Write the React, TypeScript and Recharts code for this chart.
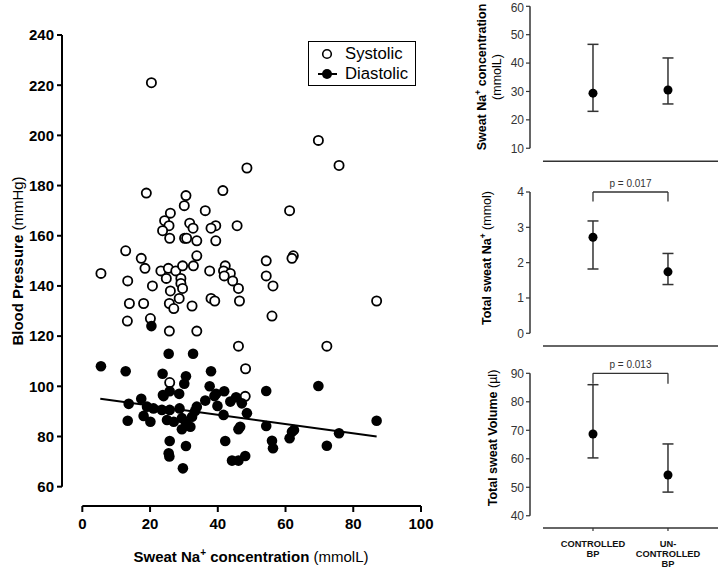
import React from "react";
import { ScatterChart, Scatter, XAxis, YAxis, ReferenceLine, Legend, ErrorBar } from "recharts";

// main scatter: sweat Na+ (mmol/L) vs blood pressure (mmHg)
const systolic: [number, number][] = [
  [20.4, 221], [18.9, 177], [30.6, 176], [30.1, 172], [41.5, 178], [48.6, 187], [26.0, 169], [36.3, 170],
  [24.3, 166], [31.7, 165], [25.6, 164], [32.7, 163], [23.7, 162], [39.4, 164], [38.0, 163], [45.7, 164],
  [25.8, 159], [30.2, 159], [30.8, 159], [33.8, 158], [39.4, 158], [12.8, 154], [17.4, 151], [33.8, 152],
  [18.5, 147], [5.5, 145], [23.2, 146], [25.4, 147], [27.6, 146], [29.6, 148], [32.8, 148], [37.6, 146],
  [42.2, 148], [41.7, 146], [43.7, 145], [41.9, 144], [24.8, 143], [29.1, 143], [13.4, 142], [44.4, 142],
  [29.1, 141], [20.7, 140], [29.6, 139], [46.1, 139], [26.0, 138], [28.6, 135], [38.0, 135], [39.1, 134],
  [46.4, 134], [13.9, 133], [18.1, 133], [25.7, 133], [27.0, 131], [32.4, 132], [13.3, 126], [20.1, 127],
  [25.7, 122], [33.8, 122], [46.1, 116], [48.2, 107], [25.8, 101.5], [48.1, 96], [61.2, 170], [54.3, 150],
  [62.3, 152], [61.9, 151], [54.3, 144], [56.3, 140], [86.9, 134], [56.0, 128], [72.2, 116], [69.7, 198],
  [75.8, 188],
];

const diastolic: [number, number][] = [
  [20.4, 124], [25.5, 113], [32.7, 113], [5.5, 108], [12.8, 106], [23.7, 105], [30.6, 104], [38.0, 106],
  [30.1, 101], [37.6, 100], [23.8, 96.5], [25.8, 98], [28.6, 97], [17.4, 95], [39.5, 97], [41.9, 98],
  [45.4, 95.6], [13.7, 93], [13.4, 86.3], [18.1, 88.2], [20.1, 85.9], [19.1, 91.9], [21.0, 91.2],
  [23.5, 90.6], [24.0, 96.1], [25.8, 90.6], [25.0, 86.6], [27.0, 85.9], [28.7, 91.2], [29.4, 87.3],
  [29.4, 82.9], [30.7, 85.3], [32.4, 87.9], [33.3, 90.2], [33.8, 91.9], [31.9, 83.9], [25.8, 78.2],
  [25.5, 73.3], [25.7, 72], [30.6, 76.2], [29.7, 67.3], [36.3, 94.3], [39.0, 96.1], [39.9, 92.2],
  [43.7, 93.9], [47.1, 93.2], [48.6, 89.3], [41.7, 88.6], [46.6, 83.9], [46.1, 82.9], [42.2, 78.2],
  [44.2, 70.4], [46.1, 70.4], [48.1, 72.2], [54.3, 98.1], [69.7, 100.1], [54.3, 84.2], [56.0, 78.3],
  [56.3, 75.3], [61.2, 79.3], [61.9, 81.9], [62.5, 82.6], [75.8, 81.3], [72.2, 76.3], [86.9, 86.3],
];

const seriesNames = ["Systolic", "Diastolic"];
const trend: [number, number][] = [[5.3, 95], [86.9, 80]];
const bpTicks = [60, 80, 100, 120, 140, 160, 180, 200, 220, 240];
const naTicks = [0, 20, 40, 60, 80, 100];

// right-hand panels
const groups = ["CONTROLLED BP", "UN-CONTROLLED BP"];
const concMean = [29.4, 30.5];
const concLow = [23.0, 25.6];
const concHigh = [46.6, 41.8];
const concTicks = [10, 20, 30, 40, 50, 60];

const totalMean = [2.72, 1.74];
const totalLow = [1.82, 1.38];
const totalHigh = [3.18, 2.26];
const totalTicks = [0, 1, 2, 3, 4];

const volMean = [68.7, 54.3];
const volLow = [60.3, 48.3];
const volHigh = [86, 65.2];
const volTicks = [40, 50, 60, 70, 80, 90];

const pLabels = ["p = 0.017", "p = 0.013"];
const bracketTop = [4.0, 90];
const bracketDrop = [3.73, 86.3];

const FONT = "Arial, 'Liberation Sans', sans-serif";

const toPts = (arr: [number, number][]) => arr.map(([x, y]) => ({ x, y }));

const OpenDot = (p: any) => <circle cx={p.cx} cy={p.cy} r={4.6} fill="#fff" stroke="#000" strokeWidth={1.8} />;
const FilledDot = (p: any) => <circle cx={p.cx} cy={p.cy} r={5.3} fill="#000" />;
const PanelDot = (p: any) => <circle cx={p.cx} cy={p.cy} r={4.5} fill="#000" />;

const renderLegend = (props: any) => {
  const items = [...(props.payload || [])].sort(
    (a: any, b: any) => seriesNames.indexOf(a.value) - seriesNames.indexOf(b.value)
  );
  return (
    <div
      style={{
        border: "1.5px solid #000", width: 108, height: 45, boxSizing: "border-box", background: "#fff",
        fontFamily: FONT, fontSize: 16.7, paddingTop: 2,
      }}
    >
      {items.map((p: any, i: number) => (
        <div key={i} style={{ display: "flex", alignItems: "center", height: 20 }}>
          <svg width={36} height={16}>
            {p.value === seriesNames[0] ? (
              <circle cx={18} cy={8} r={4.3} fill="#fff" stroke="#000" strokeWidth={1.6} />
            ) : (
              <g>
                <line x1={9} x2={28} y1={8} y2={8} stroke="#000" strokeWidth={2} />
                <circle cx={18} cy={8} r={5} fill="#000" />
              </g>
            )}
          </svg>
          <span style={{ lineHeight: "20px" }}>{p.value}</span>
        </div>
      ))}
    </div>
  );
};

const MainYLabel = () => (
  <text transform="translate(23,261) rotate(-90)" textAnchor="middle" fontSize={15} fill="#000" fontFamily={FONT}>
    <tspan fontWeight="bold">Blood Pressure</tspan>
    <tspan> (mmHg)</tspan>
  </text>
);

const MainXLabel = () => (
  <text x={251} y={562} textAnchor="middle" fontSize={15} fill="#000" fontFamily={FONT}>
    <tspan fontWeight="bold">Sweat Na</tspan>
    <tspan fontWeight="bold" fontSize={10} dy={-6}>+</tspan>
    <tspan fontWeight="bold" dy={6}> concentration</tspan>
    <tspan> (mmolL)</tspan>
  </text>
);

const ConcLabel = () => (
  <text transform="translate(46,77) rotate(-90)" textAnchor="middle" fontSize={12.5} fill="#000" fontFamily={FONT}>
    <tspan fontWeight="bold">Sweat Na</tspan>
    <tspan fontWeight="bold" fontSize={8.5} dy={-5}>+</tspan>
    <tspan fontWeight="bold" dy={5}> concentration</tspan>
    <tspan x={0} dy={15} fontSize={12.5}>(mmolL)</tspan>
  </text>
);

const TotalLabel = () => (
  <text transform="translate(51,93) rotate(-90)" textAnchor="middle" fontSize={12.5} fill="#000" fontFamily={FONT}>
    <tspan fontWeight="bold">Total sweat Na</tspan>
    <tspan fontWeight="bold" fontSize={8.5} dy={-5}>+</tspan>
    <tspan dy={5}> (mmol)</tspan>
  </text>
);

const VolLabel = () => (
  <text transform="translate(57,88) rotate(-90)" textAnchor="middle" fontSize={12.5} fill="#000" fontFamily={FONT}>
    <tspan fontWeight="bold">Total sweat Volume</tspan>
    <tspan> (µl)</tspan>
  </text>
);

const GroupTick = (props: any) => {
  const name = groups[props.payload.value] || "";
  const lines = name.replace("-", "-\n").replace(" ", "\n").split("\n");
  return (
    <text textAnchor="middle" fontSize={9.3} fontWeight="bold" fill="#111" fontFamily={FONT}>
      {lines.map((l, i) => (
        <tspan key={i} x={props.x} y={props.y + 14 + i * 10}>{l}</tspan>
      ))}
    </text>
  );
};

type PanelProps = {
  top: number; height: number; mt: number; mb: number; xh: number;
  mean: number[]; low: number[]; high: number[];
  domain: [number, number]; ticks: number[]; label: any;
  bracket?: number; showNames?: boolean;
};

function Panel({ top, height, mt, mb, xh, mean, low, high, domain, ticks, label, bracket, showNames }: PanelProps) {
  const data = mean.map((m, i) => ({ x: i, y: m, err: [m - low[i], high[i] - m] }));
  const xDom: [number, number] = [-0.84, 1.667];
  return (
    <div style={{ position: "absolute", left: 440, top }}>
      <ScatterChart width={278} height={height} margin={{ top: mt, right: 0, bottom: mb, left: 0 }}>
        <XAxis
          type="number" dataKey="x" domain={xDom} ticks={[0, 1]} height={xh} allowDataOverflow
          axisLine={false} tickLine={{ stroke: "#333", strokeWidth: 1.2 }} tickSize={3}
          tick={showNames ? <GroupTick /> : false}
        />
        <YAxis
          type="number" dataKey="y" domain={domain} ticks={ticks} width={90} allowDataOverflow
          axisLine={false} tickLine={{ stroke: "#333", strokeWidth: 1.2 }} tickSize={4} tickMargin={2}
          tick={{ fontSize: 12, fill: "#333", fontFamily: FONT }} label={label}
        />
        <ReferenceLine
          segment={[{ x: xDom[0], y: ticks[0] }, { x: xDom[0], y: ticks[ticks.length - 1] }]}
          stroke="#333" strokeWidth={1.5} ifOverflow="visible"
        />
        <ReferenceLine
          segment={[{ x: -0.667, y: domain[0] }, { x: xDom[1], y: domain[0] }]}
          stroke="#333" strokeWidth={1.5} ifOverflow="visible"
        />
        {bracket !== undefined && (
          <ReferenceLine
            segment={[{ x: 0, y: bracketTop[bracket] }, { x: 1, y: bracketTop[bracket] }]}
            stroke="#333" strokeWidth={1.3} ifOverflow="visible"
            label={{ value: pLabels[bracket], position: "top", fontSize: 10, fill: "#333", fontFamily: FONT }}
          />
        )}
        {bracket !== undefined && (
          <ReferenceLine
            segment={[{ x: 0, y: bracketTop[bracket] }, { x: 0, y: bracketDrop[bracket] }]}
            stroke="#333" strokeWidth={1.3} ifOverflow="visible"
          />
        )}
        {bracket !== undefined && (
          <ReferenceLine
            segment={[{ x: 1, y: bracketTop[bracket] }, { x: 1, y: bracketDrop[bracket] }]}
            stroke="#333" strokeWidth={1.3} ifOverflow="visible"
          />
        )}
        <Scatter data={data} dataKey="y" shape={PanelDot} isAnimationActive={false}>
          <ErrorBar dataKey="err" direction="y" width={5.5} stroke="#333" strokeWidth={1.5} isAnimationActive={false} />
        </Scatter>
      </ScatterChart>
    </div>
  );
}

export default function App() {
  return (
    <div style={{ position: "absolute", left: 0, top: 0, width: 718, height: 570, background: "#fff" }}>
      <div style={{ position: "absolute", left: 0, top: 0 }}>
        <ScatterChart width={440} height={570} margin={{ top: 35, right: 19, bottom: 34, left: 0 }}>
          <XAxis
            type="number" dataKey="x" domain={[-6, 100]} ticks={naTicks} height={30} allowDataOverflow
            axisLine={false} tickLine={{ stroke: "#000", strokeWidth: 2 }} tickSize={6} tickMargin={6}
            tick={{ fontSize: 15, fontWeight: "bold", fill: "#000", fontFamily: FONT }}
            label={MainXLabel}
          />
          <YAxis
            type="number" dataKey="y" domain={[52.3, 240]} ticks={bpTicks} width={62} allowDataOverflow
            axisLine={false} tickLine={{ stroke: "#000", strokeWidth: 2 }} tickSize={5} tickMargin={3}
            tick={{ fontSize: 15, fontWeight: "bold", fill: "#000", fontFamily: FONT }}
            label={MainYLabel}
          />
          <ReferenceLine segment={[{ x: -6, y: 60 }, { x: -6, y: 240 }]} stroke="#000" strokeWidth={2} ifOverflow="visible" />
          <ReferenceLine segment={[{ x: 0, y: 52.3 }, { x: 100, y: 52.3 }]} stroke="#000" strokeWidth={2} ifOverflow="visible" />
          <ReferenceLine
            segment={[{ x: trend[0][0], y: trend[0][1] }, { x: trend[1][0], y: trend[1][1] }]}
            stroke="#000" strokeWidth={2} ifOverflow="visible"
          />
          <Scatter name={seriesNames[0]} data={toPts(systolic)} shape={OpenDot} isAnimationActive={false} />
          <Scatter name={seriesNames[1]} data={toPts(diastolic)} shape={FilledDot} isAnimationActive={false} />
          <Legend
            layout="vertical" align="center" verticalAlign="middle" content={renderLegend}
            wrapperStyle={{ left: 308, top: 41, width: 108, height: 45 }}
          />
        </ScatterChart>
      </div>
      <Panel
        top={0} height={190} mt={6.3} mb={8.7} xh={20}
        mean={concMean} low={concLow} high={concHigh}
        domain={[5.4, 60]} ticks={concTicks} label={ConcLabel}
      />
      <Panel
        top={165} height={190} mt={27} mb={1} xh={8}
        mean={totalMean} low={totalLow} high={totalHigh}
        domain={[-0.36, 4]} ticks={totalTicks} label={TotalLabel} bracket={0}
      />
      <Panel
        top={350} height={220} mt={23.3} mb={0} xh={42}
        mean={volMean} low={volLow} high={volHigh}
        domain={[35.7, 90]} ticks={volTicks} label={VolLabel} bracket={1} showNames
      />
    </div>
  );
}
